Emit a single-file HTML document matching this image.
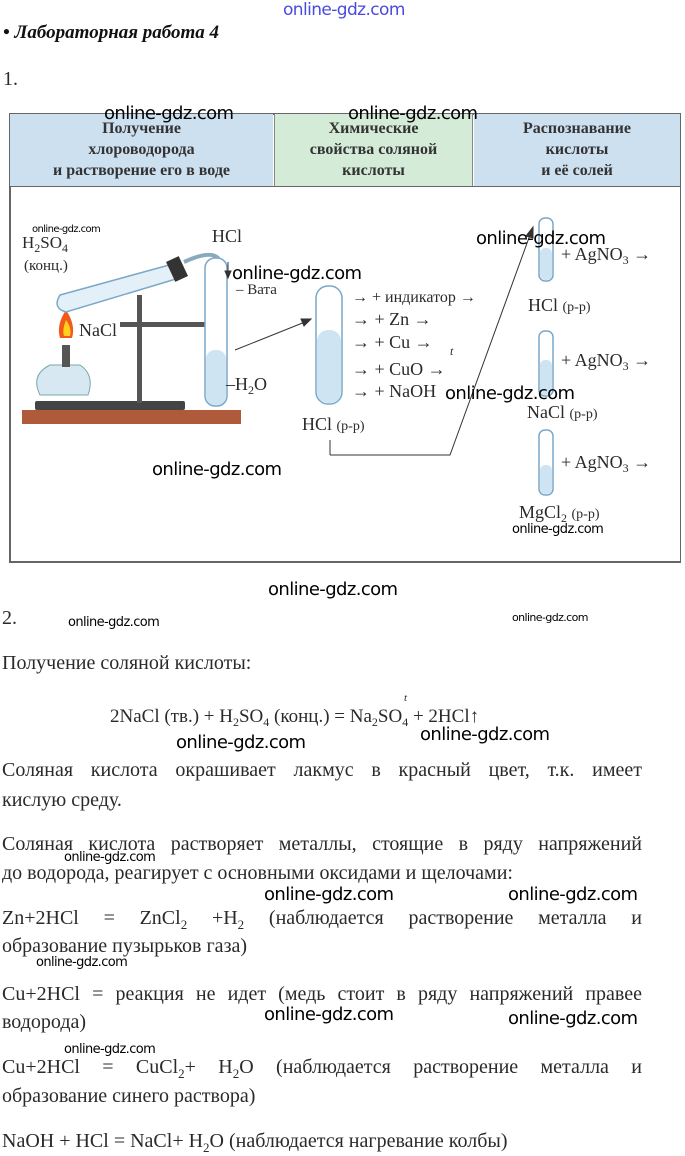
<!DOCTYPE html>
<html><head><meta charset="utf-8"><style>
body{margin:0;width:685px;height:1156px;background:#fff;position:relative;overflow:hidden;font-family:"Liberation Serif",serif;color:#2a2a2a}
.a{position:absolute;white-space:nowrap}
.w{position:absolute;font-family:"DejaVu Sans",sans-serif;color:#000;white-space:nowrap;letter-spacing:-0.6px}
.t{position:absolute;left:2px;width:640px;font-size:20px;text-align:justify;text-align-last:justify;white-space:nowrap}
.hd{position:absolute;top:114px;height:72px;font-weight:bold;font-size:16px;text-align:center;line-height:21px;color:#333;padding-top:4px;box-sizing:border-box}
.s{font-size:12px;vertical-align:-4px}
sub{font-size:13px;line-height:0}
</style></head><body>
<div class="w" style="left:283px;top:0px;font-size:17px;color:#4a4adf">online-gdz.com</div>
<div class="a" style="left:3px;top:22px;font-size:19px;font-weight:bold;font-style:italic;color:#111">• Лабораторная работа 4</div>
<div class="a" style="left:3px;top:68px;font-size:20px">1.</div>

<div class="a" style="left:9px;top:113px;width:672px;height:450px;border:2px solid #666;border-right-width:1px;box-sizing:border-box"></div>
<div class="hd" style="left:10px;width:263px;background:#cde0f0">Получение<br>хлороводорода<br>и растворение его в воде</div>
<div class="hd" style="left:274px;width:199px;background:#d3ebd7;border-left:1px solid #888;border-right:1px solid #888">Химические<br>свойства соляной<br>кислоты</div>
<div class="hd" style="left:474px;width:206px;background:#cde0f0">Распознавание<br>кислоты<br>и её солей</div>
<div class="a" style="left:10px;top:186px;width:670px;height:1px;background:#666"></div>

<svg class="a" style="left:0;top:0" width="685" height="570">
 <rect x="22" y="410" width="219" height="14" fill="#b05a3c"/>
 <rect x="35" y="401" width="150" height="9" fill="#444" rx="2"/>
 <rect x="137" y="295" width="5" height="108" fill="#555"/>
 <rect x="120" y="322" width="100" height="5" fill="#555"/>
 <path d="M40 395 Q30 375 50 365 L80 365 Q95 375 88 395 Z" fill="#d8e8f2" stroke="#7aa" />
 <rect x="62" y="345" width="8" height="22" fill="#555"/>
 <path d="M66 310 Q56 325 60 338 L72 338 Q76 325 66 310Z" fill="#f25a1a"/>
 <path d="M66 320 Q62 330 64 336 L70 336 Q72 328 66 320Z" fill="#ffd020"/>
 <path d="M60 295 L180 262 L186 276 L66 312 Q52 308 60 295Z" fill="#e4f0f8" stroke="#7aa8c8" stroke-width="1.5"/>
 <rect x="170" y="258" width="14" height="22" fill="#333" transform="rotate(-25 177 269)"/>
 <path d="M184 262 Q210 250 218 258 L218 262" fill="none" stroke="#8ab" stroke-width="4"/>
 <rect x="205" y="258" width="22" height="148" rx="10" fill="#fff" stroke="#7aa8c8" stroke-width="1.5"/>
 <rect x="206" y="350" width="20" height="55" rx="9" fill="#cfe4f2"/>
 <rect x="316" y="286" width="26" height="118" rx="12" fill="#fff" stroke="#7aa8c8" stroke-width="1.5"/>
 <rect x="317" y="330" width="24" height="73" rx="11" fill="#cfe4f2"/>
 <rect x="539" y="218" width="14" height="63" rx="6" fill="#fff" stroke="#7aa8c8" stroke-width="1.5"/>
 <rect x="540" y="248" width="12" height="32" rx="5" fill="#cfe4f2"/>
 <rect x="539" y="331" width="14" height="65" rx="6" fill="#fff" stroke="#7aa8c8" stroke-width="1.5"/>
 <rect x="540" y="360" width="12" height="35" rx="5" fill="#cfe4f2"/>
 <rect x="539" y="430" width="14" height="65" rx="6" fill="#fff" stroke="#7aa8c8" stroke-width="1.5"/>
 <rect x="540" y="465" width="12" height="29" rx="5" fill="#cfe4f2"/>
 <g stroke="#333" stroke-width="1" fill="#333">
  <line x1="235" y1="350" x2="305" y2="322"/><path d="M311 319 L301 319 L304 326Z"/>
  <line x1="330" y1="440" x2="330" y2="455"/><polyline points="330,455 450,455 530,235" fill="none"/><path d="M533 227 L526 236 L533 238Z"/>
  <line x1="228" y1="262" x2="228" y2="272"/><path d="M228 278 L225 271 L231 271Z"/>
 </g>
</svg>

<div class="a" style="left:22px;top:233px;font-size:17px">H<span class="s">2</span>SO<span class="s">4</span></div>
<div class="a" style="left:24px;top:258px;font-size:15px">(конц.)</div>
<div class="a" style="left:212px;top:226px;font-size:18px">HCl</div>
<div class="a" style="left:236px;top:282px;font-size:15px">– Вата</div>
<div class="a" style="left:79px;top:320px;font-size:18px">NaCl</div>
<div class="a" style="left:226px;top:374px;font-size:18px">–H<span class="s">2</span>O</div>
<div class="a" style="left:352px;top:289px;font-size:16px">→ + индикатор →</div>
<div class="a" style="left:352px;top:309px;font-size:18px">→ + Zn →</div>
<div class="a" style="left:352px;top:332px;font-size:18px">→ + Cu →</div>
<div class="a" style="left:450px;top:344px;font-size:12px;font-style:italic">t</div>
<div class="a" style="left:352px;top:359px;font-size:18px">→ + CuO →</div>
<div class="a" style="left:352px;top:381px;font-size:18px">→ + NaOH</div>
<div class="a" style="left:302px;top:414px;font-size:18px">HCl <span style="font-size:14px">(р-р)</span></div>
<div class="a" style="left:561px;top:244px;font-size:18px">+ AgNO<span class="s">3</span> →</div>
<div class="a" style="left:528px;top:295px;font-size:18px">HCl <span style="font-size:14px">(р-р)</span></div>
<div class="a" style="left:561px;top:350px;font-size:18px">+ AgNO<span class="s">3</span> →</div>
<div class="a" style="left:527px;top:402px;font-size:18px">NaCl <span style="font-size:14px">(р-р)</span></div>
<div class="a" style="left:561px;top:452px;font-size:18px">+ AgNO<span class="s">3</span> →</div>
<div class="a" style="left:519px;top:502px;font-size:18px">MgCl<span class="s">2</span> <span style="font-size:14px">(р-р)</span></div>

<div class="w" style="left:104px;top:103px;font-size:18px">online-gdz.com</div>
<div class="w" style="left:348px;top:103px;font-size:18px">online-gdz.com</div>
<div class="w" style="left:32px;top:224px;font-size:10px">online-gdz.com</div>
<div class="w" style="left:476px;top:228px;font-size:18px">online-gdz.com</div>
<div class="w" style="left:232px;top:263px;font-size:18px">online-gdz.com</div>
<div class="w" style="left:445px;top:383px;font-size:18px">online-gdz.com</div>
<div class="w" style="left:152px;top:459px;font-size:18px">online-gdz.com</div>
<div class="w" style="left:512px;top:522px;font-size:13px">online-gdz.com</div>
<div class="w" style="left:268px;top:579px;font-size:18px">online-gdz.com</div>

<div class="a" style="left:2px;top:607px;font-size:20px">2.</div>
<div class="w" style="left:68px;top:615px;font-size:13px">online-gdz.com</div>
<div class="w" style="left:512px;top:611px;font-size:11px">online-gdz.com</div>
<div class="a" style="left:2px;top:652px;font-size:20px">Получение соляной кислоты:</div>
<div class="a" style="left:110px;top:706px;font-size:19px">2NaCl (тв.) + H<span class="s">2</span>SO<span class="s">4</span> (конц.) = Na<span class="s">2</span>SO<span class="s">4</span> + 2HCl↑</div>
<div class="a" style="left:404px;top:692px;font-size:11px;font-style:italic">t</div>
<div class="w" style="left:176px;top:732px;font-size:18px">online-gdz.com</div>
<div class="w" style="left:420px;top:724px;font-size:18px">online-gdz.com</div>
<div class="t" style="top:759px">Соляная кислота окрашивает лакмус в красный цвет, т.к. имеет</div>
<div class="a" style="left:2px;top:789px;font-size:20px">кислую среду.</div>
<div class="t" style="top:833px">Соляная кислота растворяет металлы, стоящие в ряду напряжений</div>
<div class="w" style="left:64px;top:850px;font-size:13px">online-gdz.com</div>
<div class="a" style="left:2px;top:862px;font-size:20px">до водорода, реагирует с основными оксидами и щелочами:</div>
<div class="w" style="left:264px;top:884px;font-size:18px">online-gdz.com</div>
<div class="w" style="left:508px;top:884px;font-size:18px">online-gdz.com</div>
<div class="t" style="top:907px">Zn+2HCl = ZnCl<sub>2</sub> +H<sub>2</sub> (наблюдается растворение металла и</div>
<div class="a" style="left:2px;top:935px;font-size:20px">образование пузырьков газа)</div>
<div class="w" style="left:36px;top:955px;font-size:13px">online-gdz.com</div>
<div class="t" style="top:983px">Cu+2HCl = реакция не идет (медь стоит в ряду напряжений правее</div>
<div class="a" style="left:2px;top:1011px;font-size:20px">водорода)</div>
<div class="w" style="left:264px;top:1004px;font-size:18px">online-gdz.com</div>
<div class="w" style="left:508px;top:1008px;font-size:18px">online-gdz.com</div>
<div class="w" style="left:64px;top:1042px;font-size:13px">online-gdz.com</div>
<div class="t" style="top:1056px">Cu+2HCl = CuCl<sub>2</sub>+ H<sub>2</sub>O (наблюдается растворение металла и</div>
<div class="a" style="left:2px;top:1085px;font-size:20px">образование синего раствора)</div>
<div class="a" style="left:2px;top:1130px;font-size:20px">NaOH + HCl = NaCl+ H<sub>2</sub>O (наблюдается нагревание колбы)</div>
</body></html>
